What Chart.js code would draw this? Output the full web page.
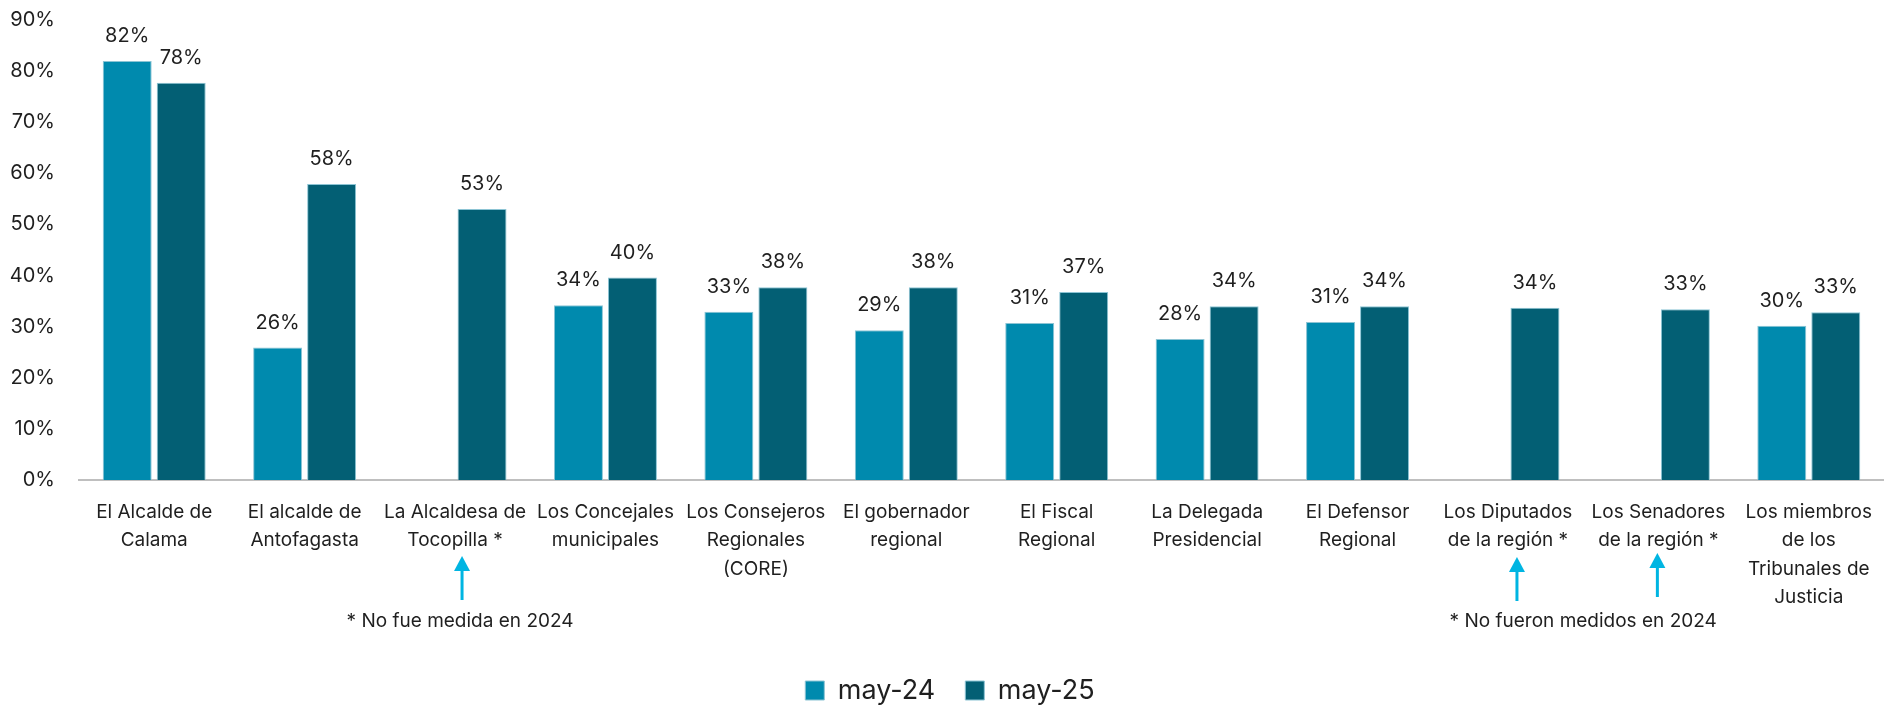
<!DOCTYPE html>
<html>
<head>
<meta charset="utf-8">
<script src="https://cdn.jsdelivr.net/npm/chart.js@4.4.0/dist/chart.umd.min.js"></script>
<style>
	html, body { margin: 0; padding: 0; background: #fff; }
</style>
</head>
<body>
<canvas id="chart" width="1884" height="705"></canvas>
<script>
const categories = [
	["El Alcalde de", "Calama"],
	["El alcalde de", "Antofagasta"],
	["La Alcaldesa de", "Tocopilla *"],
	["Los Concejales", "municipales"],
	["Los Consejeros", "Regionales", "(CORE)"],
	["El gobernador", "regional"],
	["El Fiscal", "Regional"],
	["La Delegada", "Presidencial"],
	["El Defensor", "Regional"],
	["Los Diputados", "de la región *"],
	["Los Senadores", "de la región *"],
	["Los miembros", "de los", "Tribunales de", "Justicia"]
];
const may24 = [82, 25.9, null, 34.2, 32.9, 29.3, 30.7, 27.6, 30.9, null, null, 30.2];
const may25 = [77.7, 57.9, 53, 39.6, 37.7, 37.7, 36.8, 34, 34, 33.7, 33.4, 32.8];
const seriesNames = ["may-24", "may-25"];
const footnotes = ["* No fue medida en 2024", "* No fueron medidos en 2024"];

const font = "Inter";
const textColor = "#1f1f1f";
const arrowColor = "#00b5e2";

const overlay = {
	id: "overlay",
	afterLayout(chart) {
		// push the legend a little lower / right, as in the original
		const l = chart.legend;
		l.top += 9;
		l.bottom += 9;
		l.left += 8;
		l.right += 8;
	},
	afterDatasetsDraw(chart) {
		const ctx = chart.ctx;
		const x = chart.scales.x;
		ctx.save();

		// value labels
		ctx.font = "20px " + font;
		ctx.fillStyle = textColor;
		ctx.textAlign = "center";
		ctx.textBaseline = "alphabetic";
		chart.data.datasets.forEach((ds, di) => {
			chart.getDatasetMeta(di).data.forEach((bar, i) => {
				if (ds.data[i] == null) return;
				ctx.fillText(Math.round(ds.data[i]) + "%", bar.x, bar.y - 19);
			});
		});

		// arrows under the starred categories
		const arrows = [
			{ index: 2, dx: 7, top: 556, bottom: 600 },
			{ index: 9, dx: 9, top: 557, bottom: 601 },
			{ index: 10, dx: -1, top: 553, bottom: 597 }
		];
		ctx.fillStyle = arrowColor;
		ctx.strokeStyle = arrowColor;
		ctx.lineWidth = 3;
		arrows.forEach((a) => {
			const ax = x.getPixelForValue(a.index) + a.dx;
			ctx.beginPath();
			ctx.moveTo(ax, a.top + 12);
			ctx.lineTo(ax, a.bottom);
			ctx.stroke();
			ctx.beginPath();
			ctx.moveTo(ax, a.top);
			ctx.lineTo(ax - 8, a.top + 15);
			ctx.lineTo(ax + 8, a.top + 15);
			ctx.closePath();
			ctx.fill();
		});

		// footnotes
		ctx.font = "19px " + font;
		ctx.fillStyle = textColor;
		ctx.textBaseline = "middle";
		ctx.fillText(footnotes[0], x.getPixelForValue(2) + 5, 621);
		ctx.fillText(footnotes[1], (x.getPixelForValue(9) + x.getPixelForValue(10)) / 2, 621);

		ctx.restore();
	}
};

const barData = {
	labels: categories,
	datasets: [
		{
			label: seriesNames[0],
			data: may24,
			backgroundColor: "#008aae",
			borderColor: "#8cc4d4",
			borderWidth: 1
		},
		{
			label: seriesNames[1],
			data: may25,
			backgroundColor: "#035f74",
			borderColor: "#8cc4d4",
			borderWidth: 1
		}
	]
};

const barConfig = {
	type: "bar",
	data: barData,
	plugins: [overlay],
	options: {
		responsive: false,
		animation: false,
		categoryPercentage: 0.718,
		barPercentage: 0.907,
		layout: {
			padding: { top: 20, left: 0, right: 0, bottom: 0 }
		},
		plugins: {
			tooltip: { enabled: false },
			legend: {
				position: "bottom",
				labels: {
					boxWidth: 19,
					boxHeight: 19,
					padding: 30,
					color: textColor,
					font: { family: font, size: 27 }
				}
			}
		},
		scales: {
			x: {
				afterFit: (scale) => {
					scale.height = 158;
					// keep the plot running to the right edge
					scale.paddingLeft = 0;
					scale.paddingRight = 0;
				},
				grid: { display: false, drawTicks: false },
				border: { display: true, color: "#bfbfbf", width: 2 },
				ticks: {
					autoSkip: false,
					maxRotation: 0,
					minRotation: 0,
					padding: 18,
					color: textColor,
					font: { family: font, size: 19, lineHeight: 1.5 }
				}
			},
			y: {
				min: 0,
				max: 90,
				afterFit: (scale) => {
					scale.width = 79;
					// tick padding would otherwise push the plot top down
					scale.paddingTop = 10;
					scale.paddingBottom = 10;
				},
				grid: { display: false, drawTicks: false },
				border: { display: false },
				ticks: {
					stepSize: 10,
					padding: 24,
					color: textColor,
					font: { family: font, size: 20 },
					callback: (v) => v + "%"
				}
			}
		}
	}
};

new Chart(document.getElementById("chart"), barConfig);
</script>
</body>
</html>
